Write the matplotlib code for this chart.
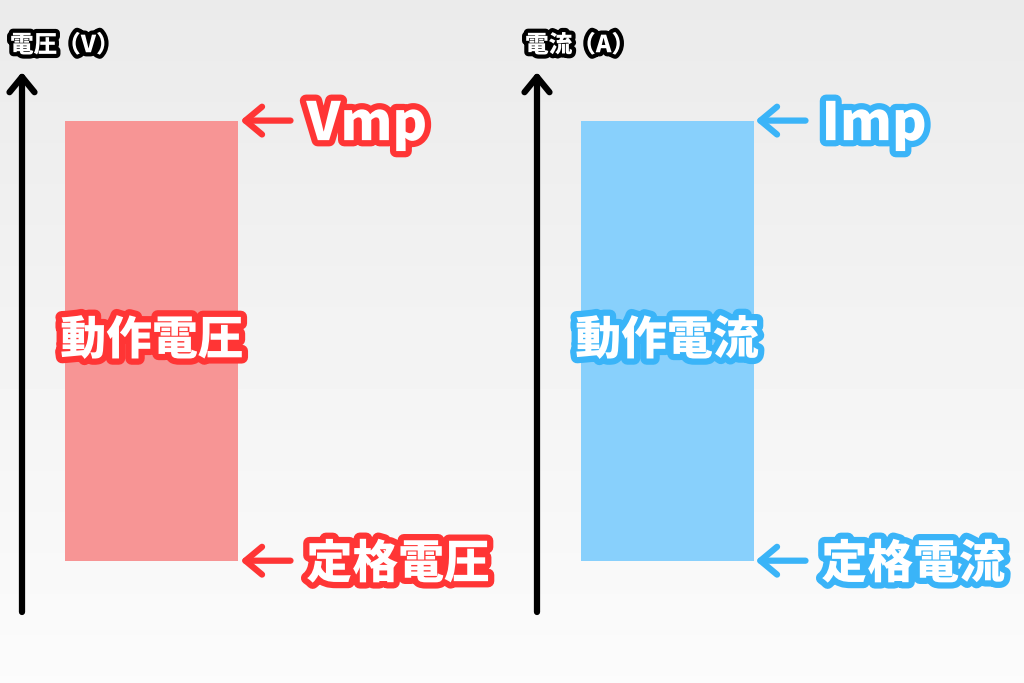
import numpy as np
import matplotlib.pyplot as plt
import matplotlib.patheffects as pe

plt.rcParams['font.family'] = ['Noto Sans CJK JP', 'DejaVu Sans']

# data (relative levels on a 0-10 axis)
axis_labels = ['電圧（V）', '電流（A）']
bar_names = ['動作電圧', '動作電流']
top_labels = ['Vmp', 'Imp']
bottom_labels = ['定格電圧', '定格電流']
rated_values = [0.95, 0.95]
mp_values = [9.1, 9.1]
bar_colors = ['#F79595', '#88D0FC']
accent_colors = ['#FF3535', '#3AB4F8']

W, H = 1024, 683
fig = plt.figure(figsize=(W / 100, H / 100), dpi=100)

# soft grey background
bg = fig.add_axes([0, 0, 1, 1])
grad = np.linspace(0.92, 0.985, 200).reshape(-1, 1)
bg.imshow(np.repeat(grad, 2, axis=1), cmap='gray', vmin=0, vmax=1,
          aspect='auto', extent=[0, 1, 0, 1], origin='upper')
bg.set_axis_off()

px_per_unit = 173.0
panel_left = [22, 537]
ax_w = 487

for i in range(2):
    ax = fig.add_axes([panel_left[i] / W, (H - 612) / H, ax_w / W, 540 / H])
    ax.set_facecolor('none')
    x0 = -130.0 / px_per_unit
    ax.set_xlim(x0, x0 + ax_w / px_per_unit)
    ax.set_ylim(0, 10)
    ax.set_axis_off()

    # vertical axis arrow
    ax.annotate('', xy=(x0, 10), xytext=(x0, 0),
                arrowprops=dict(arrowstyle='->,head_length=0.55,head_width=0.45',
                                lw=4.5, color='black', shrinkA=0, shrinkB=0,
                                mutation_scale=20, capstyle='round',
                                joinstyle='round'),
                annotation_clip=False)
    ax.text(x0 - 12 / px_per_unit, 10.5, axis_labels[i], ha='left',
            va='center', fontsize=17, fontweight='black', color='white',
            path_effects=[pe.withStroke(linewidth=6, foreground='black')],
            clip_on=False)

    # bar from rated to mp
    ax.bar(0, mp_values[i] - rated_values[i], bottom=rated_values[i],
           width=1.0, color=bar_colors[i], zorder=2)

    mid = (rated_values[i] + mp_values[i]) / 2
    ax.text(0, mid, bar_names[i], ha='center', va='center', fontsize=33,
            fontweight='black', color='white', zorder=4,
            path_effects=[pe.withStroke(linewidth=9, foreground=accent_colors[i])])

    xr = 0.5 + 2 / px_per_unit
    for j, (yv, lab) in enumerate([(mp_values[i], top_labels[i]),
                                   (rated_values[i], bottom_labels[i])]):
        ax.annotate('', xy=(xr, yv), xytext=(xr + 50 / px_per_unit, yv),
                    arrowprops=dict(arrowstyle='->,head_length=0.6,head_width=0.5',
                                    lw=4.5, color=accent_colors[i], shrinkA=0,
                                    shrinkB=0, mutation_scale=20,
                                    capstyle='round', joinstyle='round'))
        ax.text(xr + 66 / px_per_unit, yv - 0.07, lab, ha='left', va='center',
                fontsize=38 if j == 0 else 33, fontweight='black', color='white',
                zorder=4,
                path_effects=[pe.withStroke(linewidth=9, foreground=accent_colors[i])])

fig.savefig('out.png', dpi=100)
